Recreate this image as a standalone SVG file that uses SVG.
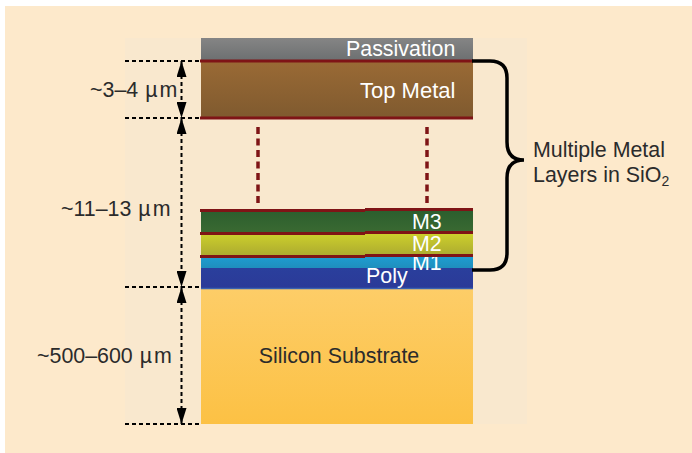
<svg xmlns="http://www.w3.org/2000/svg" width="692" height="453" viewBox="0 0 692 453">
<style>
text{font-family:"Liberation Sans",Arial,sans-serif;font-size:21.400px}
.d{fill:#2b2b2b}.w{fill:#fff}
.dash{stroke:#000;stroke-width:2;stroke-dasharray:4 3;fill:none}
.red{stroke:#7f1416;stroke-width:3;fill:none}
.dots{stroke:#7f1416;stroke-width:3.500;stroke-dasharray:7 4.500;fill:none}
</style>
<defs>
<linearGradient id="gp" x1="0" y1="0" x2="0" y2="1"><stop offset="0" stop-color="#858585"/><stop offset="1" stop-color="#6c6f70"/></linearGradient>
<linearGradient id="gt" x1="0" y1="0" x2="0" y2="1"><stop offset="0" stop-color="#9a6a35"/><stop offset="1" stop-color="#7f5a2f"/></linearGradient>
<linearGradient id="g3" x1="0" y1="0" x2="0" y2="1"><stop offset="0" stop-color="#2c5f2e"/><stop offset="1" stop-color="#3b6a32"/></linearGradient>
<linearGradient id="g2" x1="0" y1="0" x2="0" y2="1"><stop offset="0" stop-color="#cccf2c"/><stop offset="1" stop-color="#aaa830"/></linearGradient>
<linearGradient id="g1" x1="0" y1="0" x2="0" y2="1"><stop offset="0" stop-color="#1e9cd0"/><stop offset="1" stop-color="#1f8fbd"/></linearGradient>
<linearGradient id="gy" x1="0" y1="0" x2="0" y2="1"><stop offset="0" stop-color="#2a3f9c"/><stop offset="1" stop-color="#2b3a98"/></linearGradient>
<linearGradient id="gs" x1="0" y1="0" x2="0" y2="1"><stop offset="0" stop-color="#fdcd68"/><stop offset="1" stop-color="#fcc144"/></linearGradient>
<marker id="au" markerWidth="16" markerHeight="10" refX="16" refY="5" orient="auto-start-reverse" markerUnits="userSpaceOnUse" viewBox="0 0 16 10"><path d="M16 5L0 0V10Z" fill="#000"/></marker>
</defs>
<rect id="background" width="692" height="453" fill="#fff"/>
<rect x="5" y="6" width="687" height="447" fill="#fde9cb"/>
<rect x="125" y="38" width="402" height="386" fill="#f9e8ce"/>

<g id="silicon-substrate"><rect x="201" y="288" width="272" height="136" fill="url(#gs)"/><text x="339" y="363" text-anchor="middle" class="d">Silicon Substrate</text></g>
<g id="poly"><rect x="201" y="268" width="272" height="20" fill="url(#gy)"/><path d="M201 288.500H473" stroke="#3a62b0" stroke-width="1.500"/><text x="366" y="283" class="w">Poly</text></g>
<g id="m1"><rect x="201" y="257" width="272" height="11" fill="url(#g1)"/><text x="412" y="270" class="w">M1</text></g>
<g id="m2"><rect x="201" y="234" width="272" height="23" fill="url(#g2)"/><text x="412" y="251" class="w">M2</text></g>
<g id="m3"><rect x="201" y="211" width="272" height="23" fill="url(#g3)"/><text x="412" y="229" class="w">M3</text></g>
<g id="top-metal"><rect x="201" y="61" width="272" height="57" fill="url(#gt)"/><text x="360" y="98" class="w" style="font-size:22px">Top Metal</text></g>
<g id="passivation"><rect x="201" y="38" width="272" height="23" fill="url(#gp)"/><text x="346" y="56" class="w">Passivation</text></g>

<g id="connectors">
<path class="red" d="M200 61H473M200 118H473M200 210.500H365M365 209.500H473M200 233.500H365M365 232.500H473M200 256.500H365M365 255.500H473"/>
<path class="dots" d="M258 127V203M427 127V203"/>
<path class="dash" d="M125 61H201M125 118H201M125 287H201M125 424H201"/>
<path class="dash" d="M181.500 61V118" marker-start="url(#au)" marker-end="url(#au)"/>
<path class="dash" d="M181.500 118V287" marker-start="url(#au)" marker-end="url(#au)"/>
<path class="dash" d="M181.500 287V424" marker-start="url(#au)" marker-end="url(#au)"/>
<path d="M472 61H490Q507 61 507 78V142Q507 160 524 160Q507 160 507 178V253Q507 270 490 270H472" fill="none" stroke="#000" stroke-width="3.500"/>
</g>

<g id="labels">
<text x="90" y="97" class="d">~3–4 <tspan dx="1">µ</tspan><tspan dx="2">m</tspan></text>
<text x="61" y="216" class="d">~11–13 <tspan dx="1">µ</tspan><tspan dx="2">m</tspan></text>
<text x="37" y="363" class="d">~500–600 <tspan dx="1">µ</tspan><tspan dx="2">m</tspan></text>
<text x="533" y="157" class="d">Multiple Metal</text>
<text x="533" y="182" class="d">Layers in SiO<tspan style="font-size:14px" dy="4">2</tspan></text>
</g>
</svg>
